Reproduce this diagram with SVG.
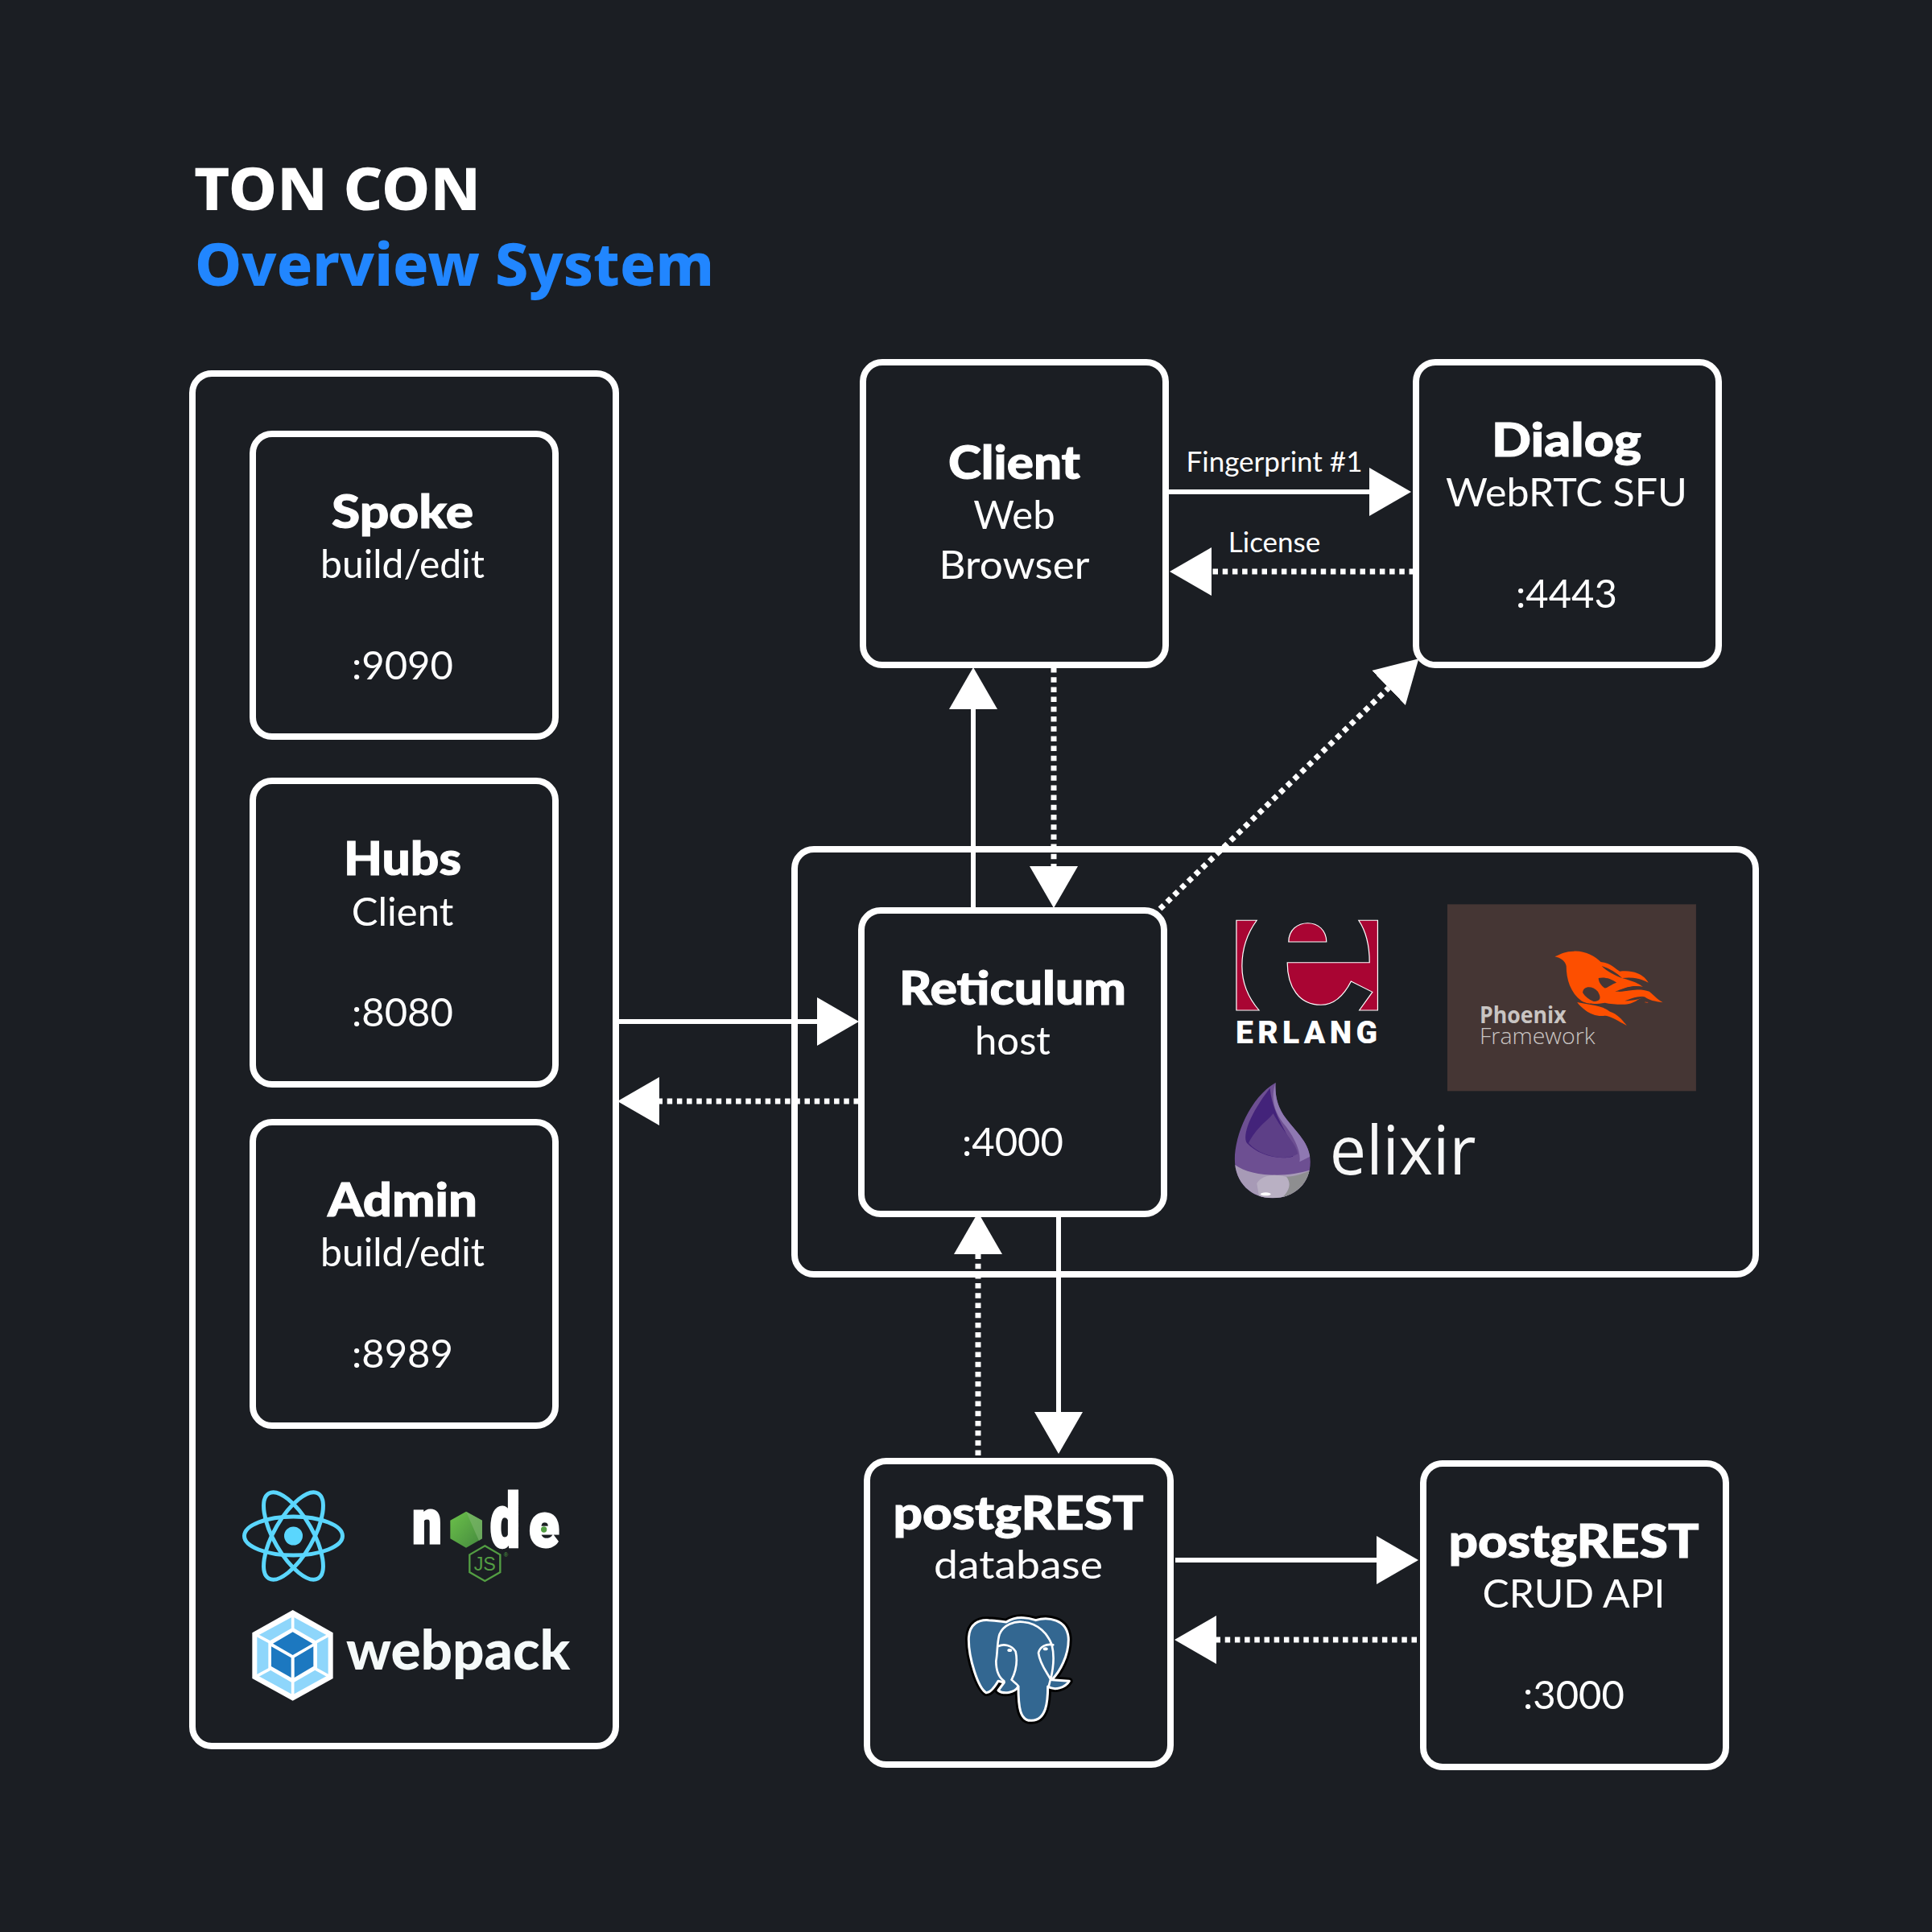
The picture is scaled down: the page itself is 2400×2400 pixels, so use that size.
<svg xmlns="http://www.w3.org/2000/svg" width="2400" height="2400" viewBox="0 0 2400 2400">
<style>
.box{fill:#1b1e23;stroke:#fff;stroke-width:8}
.frame{fill:none;stroke:#fff;stroke-width:8}
text{font-family:"Lato","Noto Sans",sans-serif;fill:#fff}
.t{font-size:58px;font-weight:900;text-anchor:middle;stroke:#fff;stroke-width:1px}
.s{font-size:49px;font-weight:400;text-anchor:middle}
.title{font-family:"Noto Sans","Open Sans",sans-serif;font-size:74px;font-weight:800}
.lab{font-size:35px;text-anchor:middle}
.c{fill:none;stroke:#fff;stroke-width:6;marker-end:url(#head)}
.d{stroke-width:7;stroke-dasharray:6.500 5.700}
.nl{font-family:Roboto,sans-serif;font-weight:900;stroke:#fff;stroke-width:9px}
</style>
<defs>
<marker id="head" markerUnits="userSpaceOnUse" markerWidth="54" markerHeight="62" viewBox="0 -31 54 62" refX="0" refY="0" orient="auto"><path d="M0,-30L52,0L0,30Z" fill="#fff"/></marker>
<linearGradient id="nodeg" x1="0" y1="0" x2="1" y2="1"><stop offset="0" stop-color="#6cc24a"/><stop offset="1" stop-color="#44883e"/></linearGradient>
<clipPath id="dropclip"><path d="M207,735C130,790 83,930 83,1020C83,1110 135,1165 198,1165C265,1165 313,1110 313,1030C313,960 270,920 240,870C215,830 205,790 207,735Z"/></clipPath>
</defs>
<rect width="2400" height="2400" fill="#1b1e23"/>
<g id="title">
<text class="title" x="241" y="261" textLength="356" lengthAdjust="spacingAndGlyphs">TON CON</text>
<text class="title" x="242" y="355" style="fill:#2186ff" textLength="645" lengthAdjust="spacingAndGlyphs">Overview System</text>
</g>
<g id="frames">
<rect id="frontend-group" class="frame" x="239" y="464" width="526" height="1705" rx="24"/>
<rect id="backend-group" class="frame" x="987" y="1055" width="1194" height="528" rx="24"/>
</g>
<g id="connectors">
<path class="c" d="M1209,1127V881"/>
<path class="c d" d="M1309,829V1076"/>
<path class="c d" d="M1441,1129L1725,854.500"/>
<path class="c" d="M1452,611H1701"/>
<path class="c d" d="M1757,710H1505"/>
<path class="c" d="M767,1269H1015"/>
<path class="c d" d="M1067,1368H819"/>
<path class="c d" d="M1215,1808V1558"/>
<path class="c" d="M1315,1510V1754"/>
<path class="c" d="M1460,1938H1710"/>
<path class="c d" d="M1760,2037H1511"/>
<text class="lab" x="1583" y="586">Fingerprint #1</text>
<text class="lab" x="1583" y="686">License</text>
</g>
<g id="spoke"><rect class="box" x="314" y="539" width="376" height="376" rx="24"/><text class="t" x="500" y="656" textLength="176" lengthAdjust="spacingAndGlyphs">Spoke</text><text class="s" x="500" y="718" textLength="204" lengthAdjust="spacingAndGlyphs">build/edit</text><text class="s" x="500" y="844">:9090</text></g>
<g id="hubs"><rect class="box" x="314" y="970" width="376" height="377" rx="24"/><text class="t" x="500" y="1087" textLength="146" lengthAdjust="spacingAndGlyphs">Hubs</text><text class="s" x="500" y="1150">Client</text><text class="s" x="500" y="1275">:8080</text></g>
<g id="admin"><rect class="box" x="314" y="1394" width="376" height="377" rx="24"/><text class="t" x="500" y="1511" textLength="186" lengthAdjust="spacingAndGlyphs">Admin</text><text class="s" x="500" y="1573" textLength="204" lengthAdjust="spacingAndGlyphs">build/edit</text><text class="s" x="500" y="1699">:8989</text></g>
<g id="client"><rect class="box" x="1072" y="450" width="376" height="376" rx="24"/><text class="t" x="1260" y="595" textLength="164" lengthAdjust="spacingAndGlyphs">Client</text><text class="s" x="1260" y="657">Web</text><text class="s" x="1260" y="719" textLength="187" lengthAdjust="spacingAndGlyphs">Browser</text></g>
<g id="dialog"><rect class="box" x="1759" y="450" width="376" height="376" rx="24"/><text class="t" x="1946" y="567" textLength="186" lengthAdjust="spacingAndGlyphs">Dialog</text><text class="s" x="1946" y="629" textLength="300" lengthAdjust="spacingAndGlyphs">WebRTC SFU</text><text class="s" x="1946" y="755">:4443</text></g>
<g id="reticulum"><rect class="box" x="1070" y="1131" width="376" height="377" rx="24"/><text class="t" x="1258" y="1248" textLength="282" lengthAdjust="spacingAndGlyphs">Reticulum</text><text class="s" x="1258" y="1310">host</text><text class="s" x="1258" y="1436">:4000</text></g>
<g id="postgrest-db"><rect class="box" x="1077" y="1815" width="377" height="377" rx="24"/><text class="t" x="1265" y="1900" textLength="311" lengthAdjust="spacingAndGlyphs">postgREST</text><text class="s" x="1265" y="1961" textLength="210" lengthAdjust="spacingAndGlyphs">database</text></g>
<g id="postgrest-api"><rect class="box" x="1768" y="1818" width="376" height="377" rx="24"/><text class="t" x="1955" y="1935" textLength="311" lengthAdjust="spacingAndGlyphs">postgREST</text><text class="s" x="1955" y="1997" textLength="227" lengthAdjust="spacingAndGlyphs">CRUD API</text><text class="s" x="1955" y="2123">:3000</text></g>

<g id="logo-react" fill="none" stroke="#5ad6fd" stroke-width="5">
<ellipse cx="364.500" cy="1908" rx="61" ry="24"/>
<ellipse cx="364.500" cy="1908" rx="61" ry="24" transform="rotate(60 364.500 1908)"/>
<ellipse cx="364.500" cy="1908" rx="61" ry="24" transform="rotate(120 364.500 1908)"/>
<circle cx="364.500" cy="1908" r="11.500" fill="#5ad6fd" stroke="none"/>
</g>
<g id="logo-node" transform="translate(270,1810) scale(.33333)">
<text class="nl" x="727" y="321" textLength="109" lengthAdjust="spacingAndGlyphs" style="font-size:228px">n</text>
<polygon points="927,203 987,236 987,304 927,338 868,304 868,236" fill="url(#nodeg)"/>
<polygon points="927,203 987,236 987,304 975,312" fill="#7fb56f" opacity=".6"/>
<text class="nl" x="1016" y="332" textLength="112" lengthAdjust="spacingAndGlyphs" style="font-size:280px">d</text>
<text class="nl" x="1162" y="333" textLength="112" lengthAdjust="spacingAndGlyphs" style="font-size:228px">e</text>
<circle cx="1217" cy="270" r="11" fill="#539e43"/>
<polygon points="997,331 1054,364 1054,429 997,462 940,429 940,364" fill="none" stroke="#539e43" stroke-width="7"/>
<text x="997" y="422" text-anchor="middle" style="font-family:'Liberation Sans',sans-serif;font-size:70px;fill:#539e43">JS</text>
<text x="1075" y="372" text-anchor="middle" style="font-family:'Liberation Sans',sans-serif;font-size:22px;fill:#539e43">®</text>
</g>
<g id="logo-webpack" transform="translate(270,1810) scale(.33333)">
<polygon points="281,570 431,655 431,825 281,908 130,825 130,655" fill="#fff"/>
<polygon points="281,595 413,667 413,813 281,886 148,813 148,667" fill="#8ed6fb"/>
<path d="M281,580V650M140,660L205,695M422,660L358,695M140,820L205,785M422,820L358,785M281,900V830" stroke="#fff" stroke-width="11"/>
<polygon points="281,635 372,688 372,790 281,842 190,790 190,688" fill="#fff"/>
<polygon points="281,652 355,695 281,738 207,695" fill="#1c78c0"/>
<polygon points="201,706 275,748 275,822 201,780" fill="#1c78c0"/>
<polygon points="287,748 358,706 358,780 287,822" fill="#1c78c0"/>
<text x="480" y="793" textLength="835" lengthAdjust="spacingAndGlyphs" style="font-family:Lato,sans-serif;font-size:205px;font-weight:900;fill:#f5fafa">webpack</text>
</g>
<g id="logo-elephant" transform="translate(1160,1980) scale(.33333)">
<path d="M130,170C130,110 170,95 205,98C235,98 260,105 270,105C300,85 340,85 380,98C420,85 500,90 502,170C502,230 470,290 440,320L505,325C490,350 450,362 425,345C425,400 420,470 365,472C320,475 315,420 315,345C300,370 260,375 240,360L262,330L240,325C225,350 210,370 195,368C165,350 130,240 130,170Z" fill="#000" stroke="#000" stroke-width="26" stroke-linejoin="round"/>
<path d="M130,170C130,110 170,95 205,98C235,98 260,105 270,105C300,85 340,85 380,98C420,85 500,90 502,170C502,230 470,290 440,320L505,325C490,350 450,362 425,345C425,400 420,470 365,472C320,475 315,420 315,345C300,370 260,375 240,360L262,330L240,325C225,350 210,370 195,368C165,350 130,240 130,170Z" fill="#336791" stroke="#fff" stroke-width="9" stroke-linejoin="round"/>
<path d="M262,325C240,310 232,280 232,250C238,220 235,180 245,150C260,115 300,100 335,105C390,110 425,150 440,190C450,230 445,280 435,320M240,195C260,185 290,190 305,215C315,260 300,300 290,320C305,335 315,340 315,345M445,190C420,185 395,195 390,220C395,260 420,290 435,318L428,345" fill="none" stroke="#fff" stroke-width="8" stroke-linecap="round"/>
<ellipse cx="283" cy="210" rx="9" ry="6" fill="#fff"/><ellipse cx="416" cy="205" rx="9" ry="6" fill="#fff"/>
</g>
<g id="logo-erlang">
<g transform="translate(1500,1100) scale(.40816,.33333)" fill="#a90533" stroke="#fff" stroke-width="3">
<path d="M88,130H150C120,180 105,240 105,300C105,370 125,420 157,465H88Z"/>
<path d="M460,130H518V465H462L502,397L437,357C415,410 385,445 345,445C280,445 243,380 243,287H493C493,225 485,175 460,130Z"/>
<path d="M247,210C247,165 275,140 305,140C335,140 362,165 362,210Z"/>
</g>
<text x="1535" y="1296" textLength="176" style="font-family:Roboto,sans-serif;font-size:39px;font-weight:900">ERLANG</text>
</g>
<g id="logo-phoenix" transform="translate(1500,1100) scale(.40816,.33333)">
<rect x="730" y="70" width="757" height="696" fill="#453634"/>
<g fill="#fd4f00">
<path d="M1057,265C1075,255 1090,245 1115,245C1150,243 1180,265 1197,285C1230,290 1240,310 1255,320C1290,315 1325,325 1342,362C1315,345 1290,340 1262,345C1290,355 1315,365 1325,378C1300,370 1270,378 1250,395C1280,395 1310,380 1345,395C1350,400 1370,425 1386,436C1360,432 1345,428 1330,415C1305,425 1300,440 1270,443C1260,445 1225,442 1210,437C1175,445 1150,440 1138,430C1105,400 1092,350 1092,300C1088,280 1075,270 1057,265Z"/>
<path d="M1125,435C1160,445 1200,445 1225,470C1250,480 1265,505 1276,522C1250,505 1225,485 1210,485C1190,490 1165,480 1150,465C1140,455 1130,445 1125,435Z"/>
</g>
<path d="M1142,400C1142,375 1170,370 1188,395C1200,420 1195,432 1175,432C1160,425 1150,415 1142,400ZM1190,345C1205,340 1228,345 1245,362C1228,368 1215,385 1208,382C1198,372 1190,360 1190,345ZM1200,300C1225,310 1245,325 1262,345C1240,335 1215,320 1200,300ZM1240,395C1265,385 1290,370 1325,378C1295,385 1270,395 1240,395ZM1270,430C1290,420 1315,410 1330,415C1315,425 1290,430 1270,430Z" fill="#453634"/>
<text x="1335" y="443" text-anchor="middle" style="font-size:14px;fill:#fd4f00">™</text>
<text x="828" y="513" textLength="264" lengthAdjust="spacingAndGlyphs" style="font-family:'Open Sans',sans-serif;font-size:84px;font-weight:700;fill:#c9c5c3">Phoenix</text>
<text x="828" y="590" textLength="352" lengthAdjust="spacingAndGlyphs" style="font-family:'Open Sans',sans-serif;font-size:84px;font-weight:300;fill:#c9c5c3">Framework</text>
</g>
<g id="logo-elixir" transform="translate(1500,1100) scale(.40816,.33333)">
<path d="M207,735C130,790 83,930 83,1020C83,1110 135,1165 198,1165C265,1165 313,1110 313,1030C313,960 270,920 240,870C215,830 205,790 207,735Z" fill="#6d4f92"/>
<g clip-path="url(#dropclip)">
<path d="M207,735C190,800 205,850 240,900C270,950 285,1000 280,1030L330,1000V720Z" fill="#8f78b2"/>
<path d="M190,755C130,850 105,930 120,960C150,1000 210,1025 260,1010C270,950 200,880 190,755Z" fill="#43237a"/>
<path d="M125,960C150,900 180,880 200,850C230,920 270,960 275,1000C240,1030 160,1010 125,960Z" fill="#5d3f87"/>
<path d="M83,1040C130,1085 240,1090 313,1060V1180H83Z" fill="#a79ab6"/>
<path d="M150,1110C170,1070 220,1075 250,1090C265,1120 250,1160 215,1180H160Z" fill="#c5bfcb" opacity=".6"/>
<path d="M240,1085C270,1085 295,1070 320,1060V1180H210C245,1150 260,1115 240,1085Z" fill="#8e8e90"/>
<ellipse cx="177" cy="1150" rx="16" ry="6" fill="#fff"/>
</g>
<text x="372" y="1078" textLength="445" lengthAdjust="spacingAndGlyphs" style="font-family:'Open Sans',sans-serif;font-size:255px;font-weight:400;fill:#f7f7f7">elixir</text>
</g>
</svg>
